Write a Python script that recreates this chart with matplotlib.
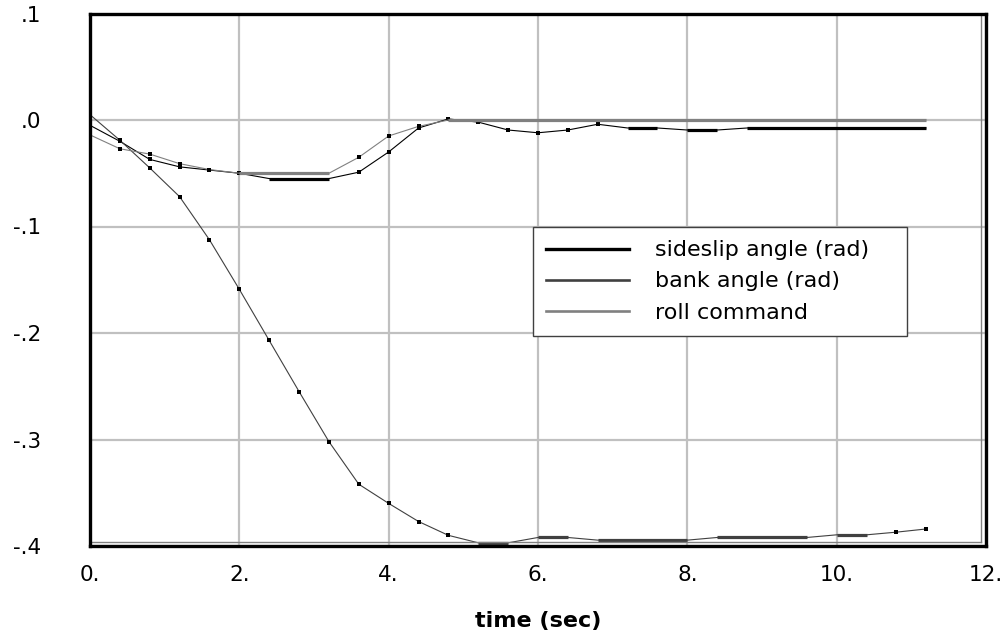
import matplotlib
matplotlib.use("Agg")
import matplotlib.pyplot as plt
from matplotlib.lines import Line2D

# ---- data ----
time_sec = [0.0, 0.4, 0.8, 1.2, 1.6, 2.0, 2.4, 2.8, 3.2, 3.6, 4.0, 4.4, 4.8, 5.2,
            5.6, 6.0, 6.4, 6.8, 7.2, 7.6, 8.0, 8.4, 8.8, 9.2, 9.6, 10.0, 10.4, 10.8, 11.2]

sideslip = [-0.005, -0.020, -0.037, -0.044, -0.047, -0.050, -0.055, -0.055, -0.055,
            -0.049, -0.030, -0.0075, 0.001, -0.002, -0.0094, -0.012, -0.0094, -0.004,
            -0.0075, -0.0075, -0.0094, -0.0094, -0.0075, -0.0075, -0.0075, -0.0075,
            -0.0075, -0.0075, -0.0075]

bank = [0.005, -0.019, -0.045, -0.072, -0.1125, -0.159, -0.207, -0.255, -0.302,
        -0.342, -0.360, -0.377, -0.390, -0.397, -0.397, -0.392, -0.392, -0.3945,
        -0.3945, -0.3945, -0.3945, -0.392, -0.392, -0.392, -0.392, -0.3895, -0.3895,
        -0.387, -0.384]

roll_cmd = [-0.014, -0.027, -0.032, -0.041, -0.0465, -0.050, -0.050, -0.050, -0.050,
            -0.035, -0.015, -0.006, 0.0, 0.0, 0.0, 0.0, 0.0, 0.0, 0.0, 0.0, 0.0, 0.0,
            0.0, 0.0, 0.0, 0.0, 0.0, 0.0, 0.0]

series_names = ["sideslip angle (rad)", "bank angle (rad)", "roll command"]
series_colors = ["#000000", "#404040", "#808080"]

x_ticks = [0, 2, 4, 6, 8, 10, 12]
x_tick_labels = ["0.", "2.", "4.", "6.", "8.", "10.", "12."]
y_ticks = [-0.4, -0.3, -0.2, -0.1, 0.0, 0.1]
y_tick_labels = ["-.4", "-.3", "-.2", "-.1", ".0", ".1"]

plt.rcParams['font.family'] = ['DejaVu Sans']

W, H = 1003, 636
fig = plt.figure(figsize=(W / 100, H / 100), dpi=100)
left_px, right_px, top_px, bot_px = 90, 986, 13.5, 546
ax = fig.add_axes([left_px / W, (H - bot_px) / H,
                   (right_px - left_px) / W, (bot_px - top_px) / H])

ax.set_xlim(0, 12)
ax.set_ylim(-0.4, 0.1)
ax.set_axisbelow(True)
ax.grid(True, color="#c0c0c0", lw=1.6)

def draw_series(y, color, zorder):
    n = len(y)
    # thin polyline through all samples
    ax.plot(time_sec, y, color=color, lw=0.8, zorder=zorder, solid_capstyle="butt")
    # sample markers (not shown where the trace is flat)
    mx, my = [], []
    for k in range(1, n):
        flat = (y[k] == y[k - 1]) or (k < n - 1 and y[k] == y[k + 1])
        if not flat:
            mx.append(time_sec[k])
            my.append(y[k])
    ax.plot(mx, my, ls="none", marker="s", ms=2.3, mfc="black",
            mec="black", mew=0, zorder=zorder + 0.05)
    # flat stretches render heavy in the original
    i = 0
    while i < n - 1:
        if y[i] == y[i + 1]:
            j = i
            while j < n - 1 and y[j] == y[j + 1]:
                j += 1
            ax.plot(time_sec[i:j + 1], y[i:j + 1], color=color, lw=2.3,
                    zorder=zorder + 0.1, solid_capstyle="butt")
            i = j
        else:
            i += 1

draw_series(sideslip, series_colors[0], 3)
draw_series(bank, series_colors[1], 4)
draw_series(roll_cmd, series_colors[2], 5)

# frame: thin grey inner box + heavy black border
ax.plot([0, 1 - 5 / 896], [4.3 / 532.5, 4.3 / 532.5], transform=ax.transAxes,
        color="#808080", lw=1.0, clip_on=False, zorder=6)
ax.plot([1 - 5 / 896, 1 - 5 / 896], [4.3 / 532.5, 1], transform=ax.transAxes,
        color="#808080", lw=1.0, clip_on=False, zorder=6)
for s in ax.spines.values():
    s.set_color("black")
    s.set_linewidth(2.4)
    s.set_zorder(7)

ax.set_xticks(x_ticks)
ax.set_xticklabels(x_tick_labels)
ax.set_yticks(y_ticks)
ax.set_yticklabels(y_tick_labels)
ax.tick_params(axis="x", length=0, pad=14, labelsize=15.5)
ax.tick_params(axis="y", length=0, pad=35, labelsize=15.5)

ax.set_xlabel("time (sec)", fontsize=16, fontweight="bold")
ax.xaxis.set_label_coords(0.5, -(621 - bot_px) / (bot_px - top_px))
ax.xaxis.label.set_va("center")

handles = [Line2D([], [], color=series_colors[0], lw=2.4),
           Line2D([], [], color=series_colors[1], lw=1.9),
           Line2D([], [], color=series_colors[2], lw=1.9)]
leg_x0 = (533 - left_px) / (right_px - left_px)
leg_w = (907 - 533) / (right_px - left_px)
leg_top = (bot_px - 227) / (bot_px - top_px)
leg = ax.legend(handles, series_names, loc="upper left",
                bbox_to_anchor=(leg_x0, 0.0, leg_w, leg_top), mode="expand",
                borderaxespad=0, fontsize=16, frameon=True, fancybox=False,
                framealpha=1, edgecolor="#404040", borderpad=0.6,
                handlelength=3.7, handletextpad=1.2, labelspacing=0.5)
leg.get_frame().set_linewidth(1.0)
leg.set_zorder(8)

fig.savefig("out.png", dpi=100)
